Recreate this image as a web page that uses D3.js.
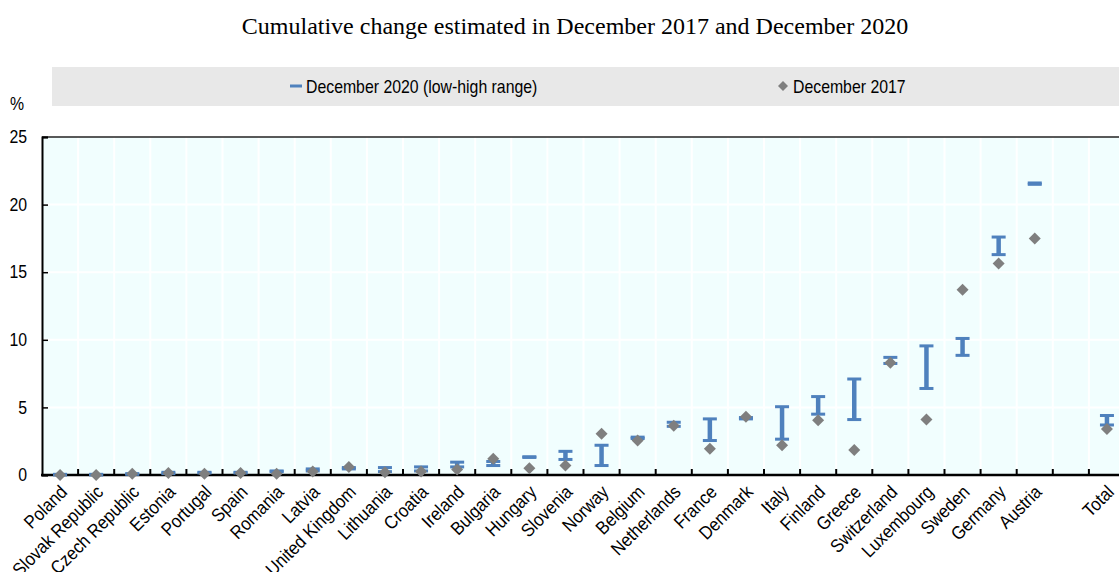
<!DOCTYPE html>
<html>
<head>
<meta charset="utf-8">
<script src="https://cdn.jsdelivr.net/npm/d3@7/dist/d3.min.js"></script>
<style>
  body { margin: 0; background: #fff; }
  svg { display: block; }
</style>
</head>
<body>
<svg id="chart" width="1119" height="572"></svg>
<script>
// Countries ordered by size of the 2020 estimate; "Total" is set apart by an empty slot
const countries = ["Poland", "Slovak Republic", "Czech Republic", "Estonia", "Portugal", "Spain",
  "Romania", "Latvia", "United Kingdom", "Lithuania", "Croatia", "Ireland", "Bulgaria", "Hungary",
  "Slovenia", "Norway", "Belgium", "Netherlands", "France", "Denmark", "Italy", "Finland", "Greece",
  "Switzerland", "Luxembourg", "Sweden", "Germany", "Austria", "Total"];

// December 2020, low and high end of the estimated range (%)
const low2020 = [0.0, 0.0, 0.05, 0.1, 0.15, 0.15, 0.25, 0.3, 0.45, 0.25, 0.3, 0.6, 0.7, 1.3,
  1.15, 0.7, 2.7, 3.6, 2.55, 4.15, 2.65, 4.5, 4.1, 8.25, 6.4, 8.85, 16.3, 21.5, 3.7];
const high2020 = [0.05, 0.05, 0.1, 0.2, 0.2, 0.2, 0.3, 0.45, 0.55, 0.55, 0.6, 0.95, 1.0, 1.35,
  1.75, 2.2, 2.8, 3.9, 4.15, 4.25, 5.05, 5.8, 7.1, 8.7, 9.55, 10.1, 17.6, 21.6, 4.4];

// December 2017 estimate (%)
const dec2017 = [0.0, 0.0, 0.1, 0.15, 0.1, 0.15, 0.1, 0.25, 0.6, 0.2, 0.25, 0.4, 1.2, 0.5,
  0.7, 3.05, 2.55, 3.65, 1.95, 4.3, 2.2, 4.05, 1.85, 8.3, 4.1, 13.7, 15.65, 17.5, 3.4];

const yTicks = [0, 5, 10, 15, 20, 25];
const gapSlot = "\u2009";

const titleText = "Cumulative change estimated in December 2017 and December 2020";
const legendRange = "December 2020 (low-high range)";
const legendPoint = "December 2017";
const unitLabel = "%";

const svg = d3.select("#chart");
const sans = "'Liberation Sans', Arial, sans-serif";
const blue = "#4f81bd";
const grey = "#7f7f7f";

const plot = { left: 42, top: 137, bottom: 475 };

const slots = [...countries.slice(0, -1), gapSlot, countries[countries.length - 1]];
const x = d3.scaleBand().domain(slots).range([plot.left, plot.left + slots.length * 36.1]).padding(0);
const y = d3.scaleLinear().domain([0, 25]).range([plot.bottom, plot.top]);
const plotRight = x.range()[1];
const cx = c => x(c) + x.bandwidth() / 2;

// Condensed sans-serif text at (px, py), optionally rotated
function label(parent, px, py, str, opts = {}) {
  const { anchor = "start", angle = 0, dy = null, size = 18, squeeze = 0.88 } = opts;
  const t = parent.append("text")
    .attr("transform", `translate(${px},${py}) rotate(${angle}) scale(${squeeze},1)`)
    .attr("text-anchor", anchor)
    .style("font-family", sans).style("font-size", size + "px")
    .attr("fill", "#000")
    .text(str);
  if (dy) t.attr("dy", dy);
  return t;
}

// Title
svg.append("text")
  .attr("x", 575).attr("y", 34)
  .attr("text-anchor", "middle")
  .style("font-family", "'Liberation Serif', 'Times New Roman', serif")
  .style("font-size", "24px")
  .attr("fill", "#000")
  .text(titleText);

// Legend band
const legend = svg.append("g");
legend.append("rect").attr("x", 52).attr("y", 67).attr("width", 1119 - 52).attr("height", 39).attr("fill", "#e8e8e8");
legend.append("rect").attr("x", 290).attr("y", 84.5).attr("width", 12).attr("height", 3).attr("fill", blue);
label(legend, 306, 92.5, legendRange);
legend.append("path").attr("d", "M0,-5L5,0L0,5L-5,0Z").attr("transform", "translate(783,86)").attr("fill", grey);
label(legend, 793, 92.5, legendPoint);

// Plot background and white grid
svg.append("rect").attr("x", plot.left).attr("y", plot.top)
  .attr("width", plotRight - plot.left).attr("height", plot.bottom - plot.top)
  .attr("fill", "#f1fefe");

const grid = svg.append("g").attr("stroke", "#fff").attr("stroke-width", 2);
grid.selectAll("line.h").data(yTicks.filter(t => t > 0 && t < 25)).join("line")
  .attr("x1", plot.left).attr("x2", plotRight)
  .attr("y1", d => y(d)).attr("y2", d => y(d));
const boundaries = d3.range(1, slots.length).map(i => plot.left + i * x.step());
grid.selectAll("line.v").data(boundaries).join("line")
  .attr("x1", d => d).attr("x2", d => d)
  .attr("y1", plot.top).attr("y2", plot.bottom);

// Frame top
svg.append("line").attr("x1", plot.left).attr("x2", plotRight)
  .attr("y1", plot.top).attr("y2", plot.top).attr("stroke", "#222").attr("stroke-width", 1.5);

// Y axis with inward ticks
const yAxis = svg.append("g").attr("transform", `translate(${plot.left},0)`)
  .call(d3.axisLeft(y).tickValues(yTicks).tickSize(-6).tickPadding(15));
yAxis.select(".domain").attr("stroke", "#000").attr("stroke-width", 2);
yAxis.selectAll(".tick line").attr("stroke", "#000").attr("stroke-width", 1.5);
yAxis.selectAll(".tick text")
  .attr("x", null)
  .attr("transform", "translate(-15,0) scale(0.88,1)")
  .style("font-family", sans).style("font-size", "18px").attr("fill", "#000");

label(svg, 17, 110, unitLabel, { anchor: "middle" });

// X axis: baseline, upward ticks between slots, rotated labels
svg.append("g").attr("stroke", "#000").attr("stroke-width", 2)
  .selectAll("line").data(boundaries).join("line")
  .attr("x1", d => d).attr("x2", d => d)
  .attr("y1", plot.bottom).attr("y2", plot.bottom - 6);
svg.append("line").attr("x1", plot.left - 1).attr("x2", plotRight)
  .attr("y1", plot.bottom).attr("y2", plot.bottom).attr("stroke", "#000").attr("stroke-width", 2.5);

const xLabels = svg.append("g");
countries.forEach(c => label(xLabels, cx(c) - 1, plot.bottom + 9, c,
  { anchor: "end", angle: -45, dy: "0.7em", size: 18.5, squeeze: 0.9 }));

// December 2020 ranges: stem plus caps
const rows = countries.map((c, i) => ({ c, lo: low2020[i], hi: high2020[i], v: dec2017[i] }));
const bars = svg.append("g").attr("fill", blue);
bars.selectAll("rect.stem").data(rows).join("rect")
  .attr("x", d => cx(d.c) - 2.25)
  .attr("width", 4.5)
  .attr("y", d => y(d.hi))
  .attr("height", d => Math.max(0, y(d.lo) - y(d.hi)));
bars.selectAll("rect.capHi").data(rows).join("rect")
  .attr("x", d => cx(d.c) - 7)
  .attr("width", 14)
  .attr("y", d => y(d.hi) - 1.5)
  .attr("height", 3);
bars.selectAll("rect.capLo").data(rows).join("rect")
  .attr("class", "capLo")
  .attr("x", d => cx(d.c) - 7)
  .attr("width", 14)
  .attr("y", d => y(d.lo) - 1.5)
  .attr("height", 3);

// December 2017 points
svg.append("g").selectAll("path").data(rows).join("path")
  .attr("d", "M0,-6L6,0L0,6L-6,0Z")
  .attr("transform", d => `translate(${cx(d.c)},${y(d.v)})`)
  .attr("fill", grey);
</script>
</body>
</html>
